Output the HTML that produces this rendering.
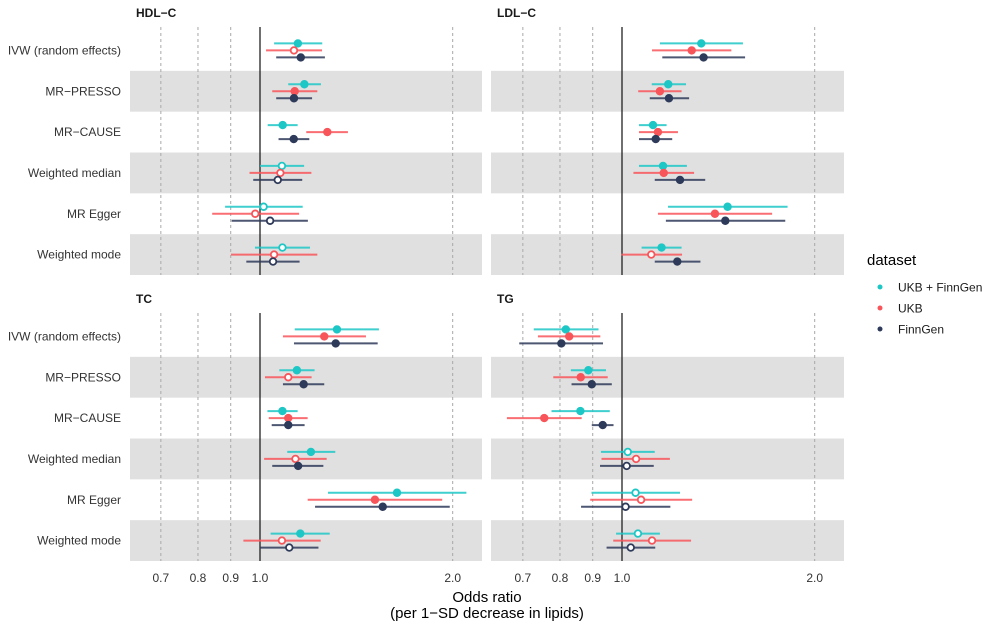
<!DOCTYPE html>
<html><head><meta charset="utf-8">
<style>
body{margin:0;background:#fff;font-family:"Liberation Sans",Arial,sans-serif;}
svg text{font-family:"Liberation Sans",Arial,sans-serif;}
</style></head>
<body>
<svg id="chart" width="995" height="627" xmlns="http://www.w3.org/2000/svg"></svg>
<script>
const methods = ["IVW (random effects)","MR-PRESSO","MR-CAUSE","Weighted median","MR Egger","Weighted mode"];
const datasets = ["UKB + FinnGen","UKB","FinnGen"];
const colors = ["#1DC7C5","#F8555B","#2E3A59"];
const panelNames = ["HDL-C","LDL-C","TC","TG"];
const tickValues = [0.7,0.8,0.9,1.0,2.0];
const tickLabels = ["0.7","0.8","0.9","1.0","2.0"];
// [or, lo, hi, filled] per method row, per dataset
const hdlOR = [[1.146,1.130,1.158],[1.173,1.133,1.130],[1.085,1.274,1.129],[1.082,1.076,1.066],[1.013,0.983,1.037],[1.084,1.052,1.048]];
const hdlLo = [[1.052,1.022,1.060],[1.107,1.045,1.060],[1.028,1.181,1.069],[1.000,0.963,0.976],[0.882,0.842,0.903],[0.982,0.901,0.952]];
const hdlHi = [[1.251,1.250,1.263],[1.245,1.229,1.206],[1.145,1.372,1.194],[1.172,1.203,1.164],[1.166,1.151,1.188],[1.197,1.229,1.153]];
const hdlSig = [[1,0,1],[1,1,1],[1,1,1],[0,0,0],[0,0,0],[0,0,0]];
const ldlOR = [[1.330,1.285,1.341],[1.181,1.146,1.184],[1.118,1.138,1.129],[1.159,1.162,1.232],[1.462,1.397,1.450],[1.153,1.111,1.220]];
const ldlLo = [[1.146,1.114,1.156],[1.113,1.060,1.105],[1.063,1.063,1.063],[1.063,1.042,1.125],[1.180,1.138,1.171],[1.073,0.998,1.125]];
const ldlHi = [[1.545,1.482,1.557],[1.259,1.239,1.273],[1.174,1.223,1.198],[1.263,1.296,1.349],[1.814,1.716,1.799],[1.239,1.241,1.326]];
const ldlSig = [[1,1,1],[1,1,1],[1,1,1],[1,1,1],[1,1,1],[1,0,1]];
const tcOR = [[1.319,1.260,1.313],[1.142,1.107,1.170],[1.084,1.107,1.107],[1.201,1.136,1.147],[1.637,1.512,1.555],[1.156,1.082,1.111]];
const tcLo = [[1.133,1.086,1.130],[1.072,1.018,1.086],[1.027,1.032,1.043],[1.103,1.015,1.045],[1.277,1.187,1.219],[1.039,0.942,1.000]];
const tcHi = [[1.534,1.464,1.527],[1.217,1.204,1.260],[1.145,1.187,1.174],[1.311,1.271,1.256],[2.101,1.926,1.979],[1.285,1.244,1.234]];
const tcSig = [[1,1,1],[1,0,1],[1,1,1],[1,0,1],[1,1,1],[1,0,0]];
const tgOR = [[0.817,0.827,0.804],[0.886,0.862,0.897],[0.861,0.756,0.933],[1.021,1.052,1.017],[1.050,1.071,1.013],[1.059,1.114,1.032]];
const tgLo = [[0.728,0.739,0.691],[0.832,0.781,0.834],[0.776,0.661,0.897],[0.927,0.929,0.924],[0.896,0.892,0.863],[0.979,0.969,0.946]];
const tgHi = [[0.919,0.925,0.934],[0.944,0.950,0.964],[0.957,0.865,0.970],[1.125,1.188,1.121],[1.232,1.287,1.190],[1.146,1.282,1.127]];
const tgSig = [[1,1,1],[1,1,1],[1,1,1],[0,0,0],[0,0,0],[0,0,0]];

const NS="http://www.w3.org/2000/svg";
const svg=document.getElementById('chart');
function mk(tag,attrs,parent){const e=document.createElementNS(NS,tag);for(const k in attrs)e.setAttribute(k,attrs[k]);(parent||svg).appendChild(e);return e;}
const panels=[
 {x0:130,x1:482,one:260,y0:30,y1:275,or:hdlOR,lo:hdlLo,hi:hdlHi,sig:hdlSig},
 {x0:491,x1:844,one:622,y0:30,y1:275,or:ldlOR,lo:ldlLo,hi:ldlHi,sig:ldlSig},
 {x0:130,x1:482,one:260,y0:316,y1:561,or:tcOR,lo:tcLo,hi:tcHi,sig:tcSig},
 {x0:491,x1:844,one:622,y0:316,y1:561,or:tgOR,lo:tgLo,hi:tgHi,sig:tgSig}];
const K=278;
panels.forEach((p,pi)=>{
 const xs=v=>p.one+K*Math.log(v);
 const rh=(p.y1-p.y0)/methods.length;
 const g=mk('g',{});
 
 
 methods.forEach((m,i)=>{
  if(i%2==1){const r=mk('rect',{x:p.x0,y:p.y0+i*rh,width:p.x1-p.x0,height:rh,fill:'#e0e0e0'},g);
   }
 });
 tickValues.forEach((t,ti)=>{
  const x=xs(t);
  if(t!==1.0){const l=mk('line',{x1:x,x2:x,y1:p.y0-3,y2:p.y1,stroke:'#a8a8a8','stroke-width':1,'stroke-dasharray':'3,3'},g);
   }
  if(pi>=2){const tx=mk('text',{x:x,y:582,'text-anchor':'middle','font-size':12,fill:'#333'},g);tx.textContent=tickLabels[ti];
   }
 });
 const vl=mk('line',{x1:xs(1),x2:xs(1),y1:p.y0-3,y2:p.y1,stroke:'#222','stroke-width':1.3},g);
 
 const st=mk('text',{x:p.x0+6,y:p.y0-13,'font-size':12,'font-weight':'bold',fill:'#1a1a1a'},g);st.textContent=panelNames[pi].replace('-','\u2212');
 
 methods.forEach((m,i)=>{
  const cy=p.y0+(i+0.5)*rh;
  if(pi%2==0){const lt=mk('text',{x:121,y:cy+4,'text-anchor':'end','font-size':12,fill:'#333'},g);lt.textContent=m.replace('-','\u2212');
   }
  datasets.forEach((d,j)=>{
   const y=cy+(j-1)*7;
   const ln=mk('line',{x1:xs(p.lo[i][j]),x2:xs(p.hi[i][j]),y1:y,y2:y,stroke:colors[j],'stroke-width':2,'stroke-opacity':0.85},g);
   
   const f=p.sig[i][j];
   const c=mk('circle',{cx:xs(p.or[i][j]),cy:y,r:f?4.2:3.3,fill:f?colors[j]:'#fff',stroke:colors[j],'stroke-width':f?0:1.8},g);
   
  });
 });
});
const t1=mk('text',{x:487,y:602,'text-anchor':'middle','font-size':15,fill:'#000'});t1.textContent='Odds ratio';

const t2=mk('text',{x:487,y:618,'text-anchor':'middle','font-size':15,fill:'#000'});t2.textContent='(per 1\u2212SD decrease in lipids)';

const lt=mk('text',{x:867,y:265,'font-size':15,fill:'#000'});lt.textContent='dataset';

datasets.forEach((d,j)=>{
 const y=287+j*21;
 const g=mk('g',{});
 
 mk('circle',{cx:880,cy:y,r:2.5,fill:colors[j]},g);
 const t=mk('text',{x:898,y:y+4.5,'font-size':12,fill:'#1a1a1a'},g);t.textContent=d;
});
</script>
</body></html>
